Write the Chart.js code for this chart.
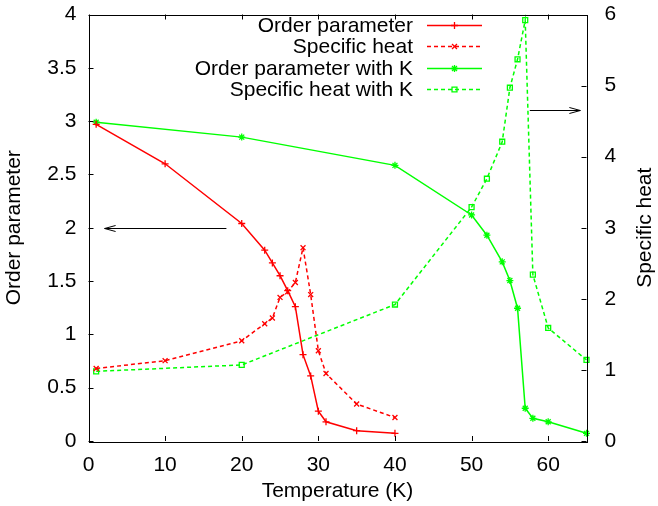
<!DOCTYPE html>
<html>
<head>
<meta charset="utf-8">
<script src="https://cdn.jsdelivr.net/npm/chart.js@4.4.1/dist/chart.umd.min.js"></script>
<style>
  body { margin: 0; background: #fff; }
  #wrap { width: 658px; height: 506px; }
</style>
</head>
<body>
<div id="wrap"><canvas id="myChart" width="658" height="506"></canvas></div>
<script>
// values
var tempNoK = [1, 10, 20, 23, 24, 25, 26, 27, 28, 29, 30, 31, 35, 40];
var orderParam = [2.97, 2.60, 2.04, 1.79, 1.67, 1.55, 1.41, 1.26, 0.81, 0.61, 0.28, 0.18, 0.097, 0.072];
var specHeat = [1.02, 1.13, 1.41, 1.65, 1.73, 2.02, 2.10, 2.23, 2.72, 2.06, 1.27, 0.95, 0.52, 0.33];

var tempK = [1, 20, 40, 50, 52, 54, 55, 56, 57, 58, 60, 65];
var orderParamK = [2.99, 2.85, 2.585, 2.12, 1.93, 1.68, 1.505, 1.245, 0.307, 0.213, 0.18, 0.072];
var specHeatK = [0.98, 1.07, 1.92, 3.29, 3.69, 4.21, 4.97, 5.37, 5.92, 2.34, 1.59, 1.14];

var xTicks = [0, 10, 20, 30, 40, 50, 60];
var yTicks = [0, 0.5, 1, 1.5, 2, 2.5, 3, 3.5, 4];
var y2Ticks = [0, 1, 2, 3, 4, 5, 6];

// arrows: [x from, x to, y, axis]
var arrows = [
    [18, 2.1, 2, "y"],
    [57.6, 64.2, 4.65, "y2"]
];

function pts(xs, ys) {
    var out = [];
    for (var i = 0; i < xs.length; i++) out.push({x: xs[i], y: ys[i]});
    return out;
}

var FONT = "'Liberation Sans', Arial, Helvetica, sans-serif";
var FS = 21;
Chart.defaults.color = "#000";
Chart.defaults.font.family = FONT;
Chart.defaults.font.size = FS;

var RED = "#ff0000", GREEN = "#00ff00";
var dash = [4, 3];

var datasets = [
    {label: "Order parameter", data: pts(tempNoK, orderParam), yAxisID: "y",
     borderColor: RED, backgroundColor: RED, borderWidth: 1.5,
     pointStyle: "cross", pointRadius: 3.5, pointBorderWidth: 1.3},
    {label: "Specific heat", data: pts(tempNoK, specHeat), yAxisID: "y2",
     borderColor: RED, backgroundColor: RED, borderWidth: 1.5, borderDash: dash,
     pointStyle: "crossRot", pointRadius: 3.5, pointBorderWidth: 1.3},
    {label: "Order parameter with K", data: pts(tempK, orderParamK), yAxisID: "y",
     borderColor: GREEN, backgroundColor: GREEN, borderWidth: 1.5,
     pointStyle: "star", pointRadius: 3.5, pointBorderWidth: 1.3},
    {label: "Specific heat with K", data: pts(tempK, specHeatK), yAxisID: "y2",
     borderColor: GREEN, backgroundColor: "rgba(0,0,0,0)", borderWidth: 1.5, borderDash: dash,
     pointStyle: "rect", pointRadius: 3.5, pointBorderWidth: 1.3}
];

function fixTicks(list) {
    return function (scale) {
        scale.ticks = list.map(function (v) { return {value: v}; });
    };
}

function fitY(w) {
    return function (s) {
        s.width = w;
        s.paddingTop = 0;
        s.paddingBottom = 0;
    };
}

// gnuplot style frame, inward ticks, arrows, y2 label and key
var gnuplotBits = {
    id: "gnuplotBits",
    afterDatasetsDraw: function (chart) {
        var ctx = chart.ctx, a = chart.chartArea;
        var sx = chart.scales.x, sy = chart.scales.y, sy2 = chart.scales.y2;
        var tl = 5;
        ctx.save();
        ctx.strokeStyle = "#000";
        ctx.lineWidth = 1;
        ctx.beginPath();
        xTicks.forEach(function (v) {
            var px = Math.round(sx.getPixelForValue(v)) + 0.5;
            ctx.moveTo(px, a.bottom); ctx.lineTo(px, a.bottom - tl);
            ctx.moveTo(px, a.top); ctx.lineTo(px, a.top + tl);
        });
        yTicks.forEach(function (v) {
            var py = Math.round(sy.getPixelForValue(v)) + 0.5;
            ctx.moveTo(a.left, py); ctx.lineTo(a.left + tl, py);
        });
        y2Ticks.forEach(function (v) {
            var py = Math.round(sy2.getPixelForValue(v)) + 0.5;
            ctx.moveTo(a.right, py); ctx.lineTo(a.right - tl, py);
        });
        ctx.stroke();
        ctx.strokeRect(Math.round(a.left) + 0.5, Math.round(a.top) + 0.5,
            Math.round(a.right - a.left), Math.round(a.bottom - a.top));

        // arrows
        arrows.forEach(function (ar) {
            var s = chart.scales[ar[3]];
            var x1 = sx.getPixelForValue(ar[0]), x2 = sx.getPixelForValue(ar[1]);
            var py = Math.round(s.getPixelForValue(ar[2])) + 0.5;
            var dir = x2 > x1 ? 1 : -1;
            ctx.beginPath();
            ctx.moveTo(x1, py); ctx.lineTo(x2, py);
            ctx.moveTo(x2 - dir * 11, py - 3); ctx.lineTo(x2, py); ctx.lineTo(x2 - dir * 11, py + 3);
            ctx.stroke();
        });

        // y2 label, reading upward like the left one
        ctx.fillStyle = "#000";
        ctx.font = FS + "px " + FONT;
        ctx.textAlign = "center";
        ctx.textBaseline = "middle";
        ctx.save();
        ctx.translate(645, (a.top + a.bottom) / 2);
        ctx.rotate(-Math.PI / 2);
        ctx.fillText("Specific heat", 0, 0);
        ctx.restore();

        // key
        var textRight = 413, lx1 = 427, lx2 = 482, rowY = a.top + 10.5, rowH = 21.3;
        chart.data.datasets.forEach(function (ds, i) {
            var y = Math.round(rowY + i * rowH) + 0.5;
            ctx.fillStyle = "#000";
            ctx.textAlign = "right";
            ctx.fillText(ds.label, textRight, y + 1);
            ctx.strokeStyle = ds.borderColor;
            ctx.lineWidth = ds.borderWidth;
            ctx.setLineDash(ds.borderDash || []);
            ctx.beginPath();
            ctx.moveTo(lx1, y); ctx.lineTo(lx2, y);
            ctx.stroke();
            ctx.setLineDash([]);
            ctx.lineWidth = ds.pointBorderWidth;
            ctx.fillStyle = ds.backgroundColor;
            Chart.helpers.drawPoint(ctx, {pointStyle: ds.pointStyle, radius: ds.pointRadius,
                borderWidth: ds.pointBorderWidth, rotation: 0}, (lx1 + lx2) / 2, y);
        });
        ctx.restore();
    }
};

var chart = new Chart(document.getElementById("myChart").getContext("2d"), {
    type: "line",
    data: {datasets: datasets},
    options: {
        responsive: false,
        animation: false,
        layout: {padding: {top: 14.5, left: 0, right: 0, bottom: 0}},
        plugins: {legend: {display: false}, tooltip: {enabled: false}},
        elements: {line: {tension: 0}},
        datasets: {line: {clip: false}},
        scales: {
            x: {
                type: "linear", min: 0, max: 65,
                afterBuildTicks: fixTicks(xTicks),
                afterFit: function (s) { s.height = 65; },
                grid: {display: false, drawTicks: false},
                border: {display: false},
                ticks: {padding: 12, maxRotation: 0, callback: function (v) { return String(v); }},
                title: {display: true, text: "Temperature (K)", font: {size: FS}, padding: {top: 0, bottom: 2}}
            },
            y: {
                type: "linear", position: "left", min: 0, max: 4,
                afterBuildTicks: fixTicks(yTicks),
                afterFit: fitY(88.5),
                grid: {display: false, drawTicks: false},
                border: {display: false},
                ticks: {padding: 12, callback: function (v) { return String(v); }},
                title: {display: true, text: "Order parameter", font: {size: FS}, padding: {top: 2, bottom: 0}}
            },
            y2: {
                type: "linear", position: "right", min: 0, max: 6,
                afterBuildTicks: fixTicks(y2Ticks),
                afterFit: fitY(71.5),
                grid: {display: false, drawTicks: false},
                border: {display: false},
                ticks: {padding: 18, callback: function (v) { return String(v); }}
            }
        }
    },
    plugins: [gnuplotBits]
});
</script>
</body>
</html>
